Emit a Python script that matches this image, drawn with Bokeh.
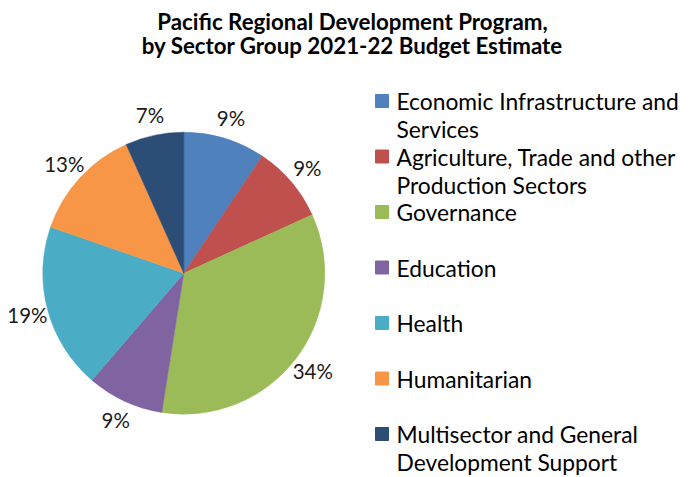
import numpy as np
from bokeh.plotting import figure
from bokeh.models import Range1d, ColumnDataSource
from bokeh.core.properties import value
from bokeh.embed import file_html
from bokeh.resources import INLINE

# ---- data ----
sectors = [
    "Economic Infrastructure and\nServices",
    "Agriculture, Trade and other\nProduction Sectors",
    "Governance",
    "Education",
    "Health",
    "Humanitarian",
    "Multisector and General\nDevelopment Support",
]
shares = [9.4, 8.8, 34.3, 8.8, 19.0, 13.0, 6.7]
colors = ["#4F81BD", "#C0504D", "#9BBB59", "#8064A2", "#4BACC6", "#F79646", "#2C4D75"]
title_lines = ["Pacific Regional Development Program,",
               "by Sector Group 2021-22 Budget Estimate"]

FONT = "Lato"
W, H = 691, 477

p = figure(width=W, height=H, output_backend="svg", toolbar_location=None,
           x_range=Range1d(0, W), y_range=Range1d(0, H),
           x_axis_location=None, y_axis_location=None, min_border=0)
p.grid.visible = False
p.outline_line_color = None

def py(Y):  # pixel row from top -> data y
    return H - Y

cx, cy, r = 183.3, py(272.7), 141

vals = np.array(shares, dtype=float)
frac = vals / vals.sum()
cum_end = np.cumsum(frac)
cum_start = cum_end - frac
start = np.pi / 2 - 2 * np.pi * cum_end
end = np.pi / 2 - 2 * np.pi * cum_start
src = ColumnDataSource(dict(start=start, end=end, color=colors))
p.wedge(x=cx, y=cy, radius=r, start_angle="start", end_angle="end",
        fill_color="color", line_color="color", line_width=0.5, source=src)

# data labels
mid = (start + end) / 2
lr = 162
lab = ColumnDataSource(dict(
    x=cx + lr * np.cos(mid), y=cy + lr * np.sin(mid),
    t=[f"{round(v):.0f}%" for v in vals]))
p.text(x="x", y="y", text="t", source=lab, text_font=value(FONT),
       text_font_size="20.5px", text_color="#1a1a1a",
       text_align="center", text_baseline="middle")

# title
for i, line in enumerate(title_lines):
    p.text(x=[352], y=[py(20.5 + 24 * i)], text=[line], text_font=value(FONT),
           text_font_size="22.3px", text_font_style="bold", text_color="#000000",
           text_align="center", text_baseline="middle")

# legend (manual)
row0, step, lh = 100.5, 55.5, 28
sq_x, txt_x = 381.5, 396
sq = dict(x=[], y=[], c=[])
tx = dict(x=[], y=[], t=[])
for i, (name, c) in enumerate(zip(sectors, colors)):
    b = row0 + step * i
    sq["x"].append(sq_x); sq["y"].append(py(b)); sq["c"].append(c)
    for j, part in enumerate(name.split("\n")):
        tx["x"].append(txt_x); tx["y"].append(py(b + lh * j)); tx["t"].append(part)
p.rect(x="x", y="y", width=13, height=13, fill_color="c", line_color="c",
       source=ColumnDataSource(sq))
p.text(x="x", y="y", text="t", source=ColumnDataSource(tx), text_font=value(FONT),
       text_font_size="22.8px", text_color="#000000",
       text_align="left", text_baseline="middle")

open("out.html", "w").write(file_html(p, INLINE))
